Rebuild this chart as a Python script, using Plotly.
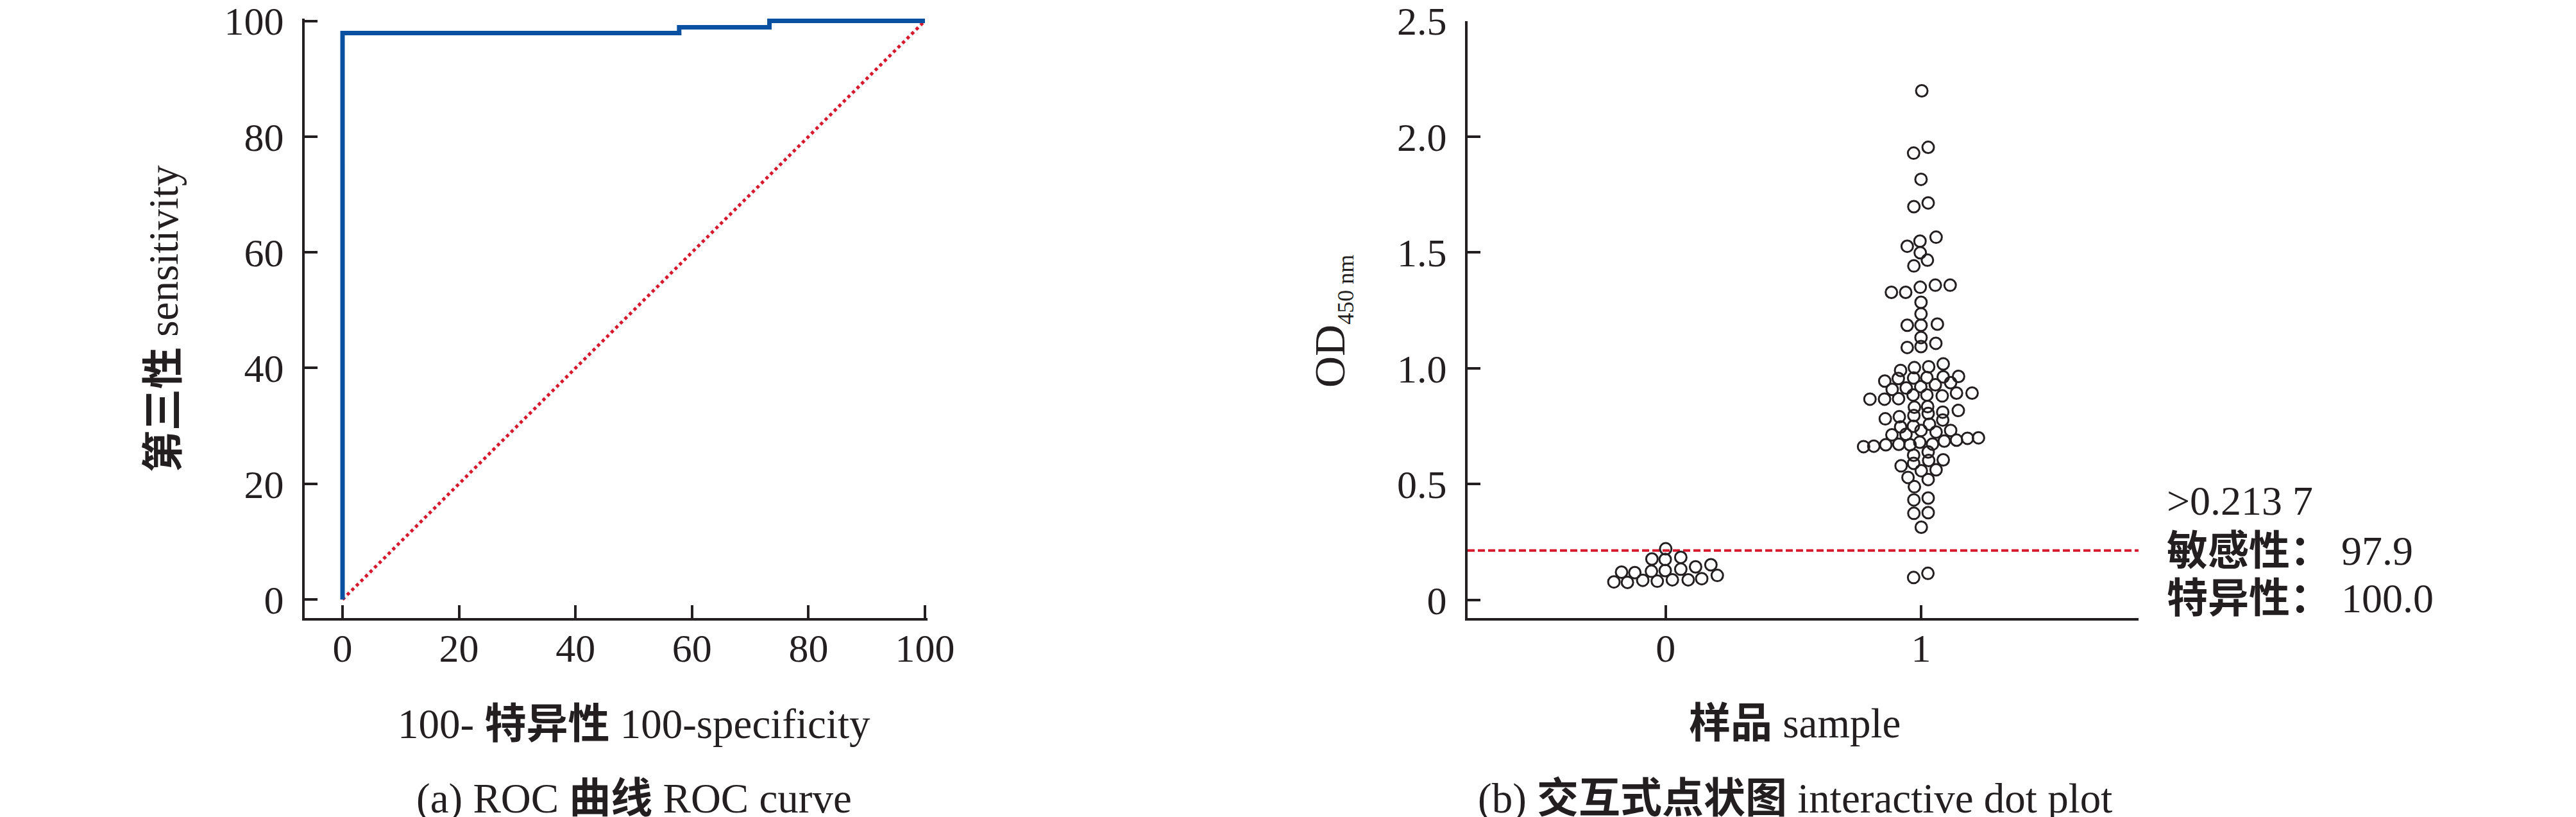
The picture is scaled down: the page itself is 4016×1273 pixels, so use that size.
import plotly.graph_objects as go

# ---------------- data ----------------
roc_fpr = [0, 0, 57.8, 73.3, 100]          # 100 - specificity
roc_tpr = [0, 97.9, 98.9, 100, 100]         # sensitivity
ref_fpr = [0, 100]
ref_tpr = [0, 100]

roc_ticks = [0, 20, 40, 60, 80, 100]

group_categories = [0, 1]
cutoff = 0.2137

group0_offset = [0.000, -0.054, -0.002, 0.059, -0.173, -0.121, -0.056, -0.002, 0.059, 0.117,
                 0.177, 0.202, -0.203, -0.150, -0.090, -0.033, 0.026, 0.088, 0.141]
group0_od = [0.221, 0.177, 0.175, 0.184, 0.120, 0.118, 0.124, 0.127, 0.133, 0.143,
             0.152, 0.106, 0.078, 0.076, 0.085, 0.081, 0.087, 0.087, 0.092]

group1_offset = [0.003, -0.029, 0.028, 0.000, -0.028, 0.028, 0.059, -0.004, -0.054, -0.003,
                 0.025, -0.028, -0.116, -0.060, -0.003, 0.056, 0.114, 0.000, 0.000, -0.054,
                 0.000, 0.064, 0.000, -0.054, 0.000, 0.058,
                 0.087, 0.030, -0.026, -0.080,
                 0.147, 0.087, 0.023, -0.029, -0.089, -0.142,
                 0.116, 0.056, -0.001, -0.058, -0.113,
                 0.200, 0.139, 0.083, 0.023, -0.031, -0.088, -0.143, -0.200,
                 0.026, -0.026,
                 0.146, 0.085, 0.028, -0.028, -0.085, -0.140, 0.085,
                 0.033, -0.030, -0.080,
                 0.116, 0.000, 0.059, -0.059, -0.114,
                 0.225, 0.182, 0.139, 0.091, -0.005, 0.045, -0.087, -0.043, -0.138, -0.185, -0.225,
                 0.028, -0.029,
                 0.087, 0.030, -0.029, -0.078,
                 0.059, 0.001, -0.051, 0.028, -0.026,
                 0.028, -0.028, 0.028, -0.028, 0.001,
                 -0.029, 0.027]
group1_od = [2.198, 1.929, 1.954, 1.816, 1.698, 1.714, 1.566, 1.549, 1.527, 1.499,
             1.467, 1.442, 1.328, 1.328, 1.350, 1.359, 1.359, 1.285, 1.235, 1.186,
             1.186, 1.191, 1.133, 1.090, 1.094, 1.108,
             1.019, 1.007, 1.003, 0.991,
             0.965, 0.963, 0.960, 0.958, 0.956, 0.945,
             0.938, 0.929, 0.921, 0.915, 0.909,
             0.893, 0.893, 0.881, 0.885, 0.885, 0.869, 0.867, 0.867,
             0.835, 0.832,
             0.818, 0.811, 0.805, 0.796, 0.791, 0.782, 0.777,
             0.759, 0.750, 0.747,
             0.732, 0.732, 0.725, 0.715, 0.713,
             0.700, 0.698, 0.690, 0.686, 0.681, 0.673, 0.672, 0.670, 0.670, 0.664, 0.662,
             0.639, 0.625,
             0.605, 0.602, 0.590, 0.579,
             0.562, 0.558, 0.529, 0.520, 0.489,
             0.440, 0.432, 0.377, 0.374, 0.314,
             0.097, 0.115]

od_ticks = [0, 0.5, 1.0, 1.5, 2.0, 2.5]
od_ticklabels = ["0", "0.5", "1.0", "1.5", "2.0", "2.5"]

cutoff_lines = [">0.213 7", "<b>敏感性：</b> 97.9", "<b>特异性：</b> 100.0"]

# ---------------- styling ----------------
W, H = 4016, 1273
FONT = "Liberation Serif, Times New Roman, Noto Sans CJK SC, serif"
INK = "#231f20"
BLUE = "#0a50a0"
RED = "#d7192e"
TOP = 24.5      # pixel row of the top of both plot areas
BOTTOM = 955    # pixel row of the x axis lines

def px(x):
    return x / W

def py(y):
    return 1 - y / H

fig = go.Figure()

fig.add_trace(go.Scatter(x=ref_fpr, y=ref_tpr, mode="lines", xaxis="x", yaxis="y",
                         line=dict(color=RED, width=5, dash="dot"), cliponaxis=False,
                         showlegend=False, hoverinfo="skip"))
fig.add_trace(go.Scatter(x=roc_fpr, y=roc_tpr, mode="lines", xaxis="x", yaxis="y",
                         line=dict(color=BLUE, width=7, shape="hv"), cliponaxis=False,
                         showlegend=False))

# cutoff line
xr2 = [-0.776, 1.852]
fig.add_trace(go.Scatter(x=xr2, y=[cutoff, cutoff], mode="lines", xaxis="x2", yaxis="y2",
                         line=dict(color=RED, width=4, dash="11px,5px"), cliponaxis=False,
                         showlegend=False, hoverinfo="skip"))

marker = dict(symbol="circle-open", size=18, color=INK, line=dict(width=3, color=INK))
fig.add_trace(go.Scatter(x=[group_categories[0] + o for o in group0_offset], y=group0_od,
                         mode="markers", xaxis="x2", yaxis="y2", marker=marker,
                         cliponaxis=False, showlegend=False))
fig.add_trace(go.Scatter(x=[group_categories[1] + o for o in group1_offset], y=group1_od,
                         mode="markers", xaxis="x2", yaxis="y2", marker=marker,
                         cliponaxis=False, showlegend=False))

axis_common = dict(showline=True, linewidth=4, linecolor=INK, ticks="inside", ticklen=20,
                   tickwidth=3.5, tickcolor=INK, showgrid=False, zeroline=False,
                   ticklabeloverflow="allow", automargin=False,
                   tickfont=dict(family=FONT, size=62, color=INK))

# small extension of the ROC ranges so the curve at 100 is not clipped
ext = 0.4
yscale = (BOTTOM - TOP) / 103.2
fig.update_layout(
    width=W, height=H,
    margin=dict(l=0, r=0, t=0, b=0, autoexpand=False),
    paper_bgcolor="white", plot_bgcolor="white",
    font=dict(family=FONT, color=INK),
    xaxis=dict(domain=[px(467), px(1434 + ext * 9.08)], range=[-6.5, 100 + ext], anchor="y",
               tickvals=roc_ticks, ticklabelstandoff=-10, **axis_common),
    yaxis=dict(domain=[py(BOTTOM), py(TOP - ext * yscale)], range=[-3.2, 100 + ext], anchor="x",
               tickvals=roc_ticks, ticklabelstandoff=16, **axis_common),
    xaxis2=dict(domain=[px(2280), px(3326)], range=xr2, anchor="y2",
                tickvals=group_categories, ticklabelstandoff=-10, **axis_common),
    yaxis2=dict(domain=[py(BOTTOM), py(TOP)], range=[-0.078, 2.5], anchor="x2",
                tickvals=od_ticks, ticktext=od_ticklabels, ticklabelstandoff=16, **axis_common),
)

def ann(text, x, y, size=65, angle=0, xanchor="center"):
    fig.add_annotation(text=text, x=px(x), y=py(y), xref="paper", yref="paper",
                       xanchor=xanchor, yanchor="middle", showarrow=False, textangle=angle,
                       font=dict(family=FONT, size=size, color=INK))

ann("<b>第三性</b> sensitivity", 247, 489, angle=-90)
ann("100- <b>特异性</b> 100-specificity", 980, 1120)
ann("(a) ROC <b>曲线</b> ROC curve", 980, 1236)
ann("OD<sub><span style='font-size:36px'>450 nm</span></sub>", 2068, 493, size=68, angle=-90)
ann("<b>样品</b> sample", 2790, 1119)
ann("(b) <b>交互式点状图</b> interactive dot plot", 2790, 1236)
for line, yy in zip(cutoff_lines, [772, 850, 924]):
    ann(line, 3368, yy, size=64, xanchor="left")

fig.write_html("out.html")
